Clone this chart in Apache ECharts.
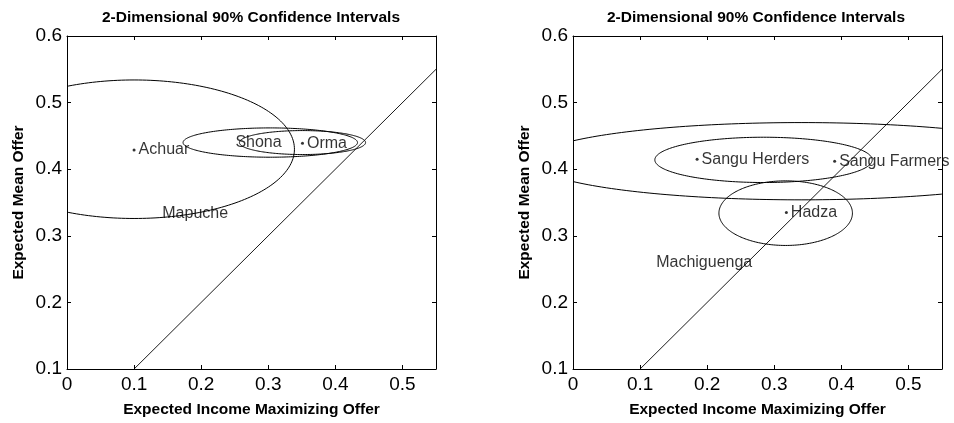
<!DOCTYPE html>
<html><head><meta charset="utf-8">
<script src="https://cdn.jsdelivr.net/npm/echarts@6/dist/echarts.min.js"></script>
<style>html,body{margin:0;padding:0;background:#fff}#c{width:954px;height:423px}</style>
</head><body><div id="c"></div>
<script>
// ---------- shared text / axes ----------
const titleText = '2-Dimensional 90% Confidence Intervals';
const xName = 'Expected Income Maximizing Offer';
const yName = 'Expected Mean Offer';
const xMin = 0, xMax = 0.55, xStep = 0.1;
const yMin = 0.1, yMax = 0.6, yStep = 0.1;
const diagonalX = [0.1, 0.55];
const diagonalY = [0.1, 0.55];

// ---------- left panel ----------
const leftEllipseNames = ['Achuar', 'Shona', 'Orma'];
const leftEllipseCx = [0.100, 0.303, 0.351];
const leftEllipseCy = [0.430, 0.440, 0.440];
const leftEllipseRx = [0.239, 0.130, 0.094];
const leftEllipseRy = [0.104, 0.022, 0.018];
const leftPointNames = ['Achuar', 'Orma'];
const leftPointX = [0.100, 0.351];
const leftPointY = [0.429, 0.439];
const leftLabelNames = ['Shona', 'Mapuche'];
const leftLabelX = [0.251, 0.142];
const leftLabelY = [0.440, 0.333];

// ---------- right panel ----------
const rightEllipseNames = ['Sangu Herders', 'Sangu Farmers', 'Hadza'];
const rightEllipseCx = [0.284, 0.340, 0.317];
const rightEllipseCy = [0.414, 0.412, 0.334];
const rightEllipseRx = [0.162, 0.400, 0.0995];
const rightEllipseRy = [0.034, 0.058, 0.0485];
const rightPointNames = ['Sangu Herders', 'Sangu Farmers', 'Hadza'];
const rightPointX = [0.185, 0.390, 0.318];
const rightPointY = [0.415, 0.412, 0.335];
const rightLabelNames = ['Machiguenga'];
const rightLabelX = [0.124];
const rightLabelY = [0.260];

const FONT = "'Liberation Sans', Arial, Helvetica, sans-serif";

function fmt(v) {
  if (Math.abs(v * 10 - Math.round(v * 10)) > 1e-6) return '';
  if (Math.abs(v) < 1e-9) return '0';
  return (Math.round(v * 10) / 10).toFixed(1);
}

function xAxis(gi, pos, main) {
  return {
    type: 'value', gridIndex: gi, position: pos, min: xMin, max: xMax, interval: xStep,
    axisLine: { show: true, onZero: false, lineStyle: { color: '#000', width: 1 } },
    axisTick: { show: true, inside: true, length: 4, lineStyle: { color: '#000', width: 1 } },
    axisLabel: { show: main, formatter: fmt, color: '#000', fontSize: 19, fontFamily: FONT, margin: 6 },
    splitLine: { show: false },
    name: main ? xName : '', nameLocation: 'middle', nameGap: 33,
    nameTextStyle: { color: '#000', fontSize: 15.5, fontWeight: 'bold', fontFamily: FONT }
  };
}
function yAxis(gi, pos, main) {
  return {
    type: 'value', gridIndex: gi, position: pos, min: yMin, max: yMax, interval: yStep,
    axisLine: { show: true, onZero: false, lineStyle: { color: '#000', width: 1 } },
    axisTick: { show: true, inside: true, length: 4, lineStyle: { color: '#000', width: 1 } },
    axisLabel: { show: main, formatter: fmt, color: '#000', fontSize: 19, fontFamily: FONT, margin: 5 },
    splitLine: { show: false },
    name: main ? yName : '', nameLocation: 'middle', nameGap: 40,
    nameTextStyle: { color: '#000', fontSize: 15.5, fontWeight: 'bold', fontFamily: FONT }
  };
}

function renderEllipse(params, api) {
  const cx = api.value(0), cy = api.value(1), rx = api.value(2), ry = api.value(3);
  const pts = [];
  const N = 240;
  for (let i = 0; i <= N; i++) {
    const t = i / N * 2 * Math.PI;
    pts.push(api.coord([cx + rx * Math.cos(t), cy + ry * Math.sin(t)]));
  }
  const cs = params.coordSys;
  return {
    type: 'group',
    clipPath: { type: 'rect', shape: { x: cs.x, y: cs.y, width: cs.width, height: cs.height } },
    children: [{
      type: 'polyline', shape: { points: pts },
      style: { stroke: '#000', fill: null, lineWidth: 1 }, silent: true
    }]
  };
}

function ellipseSeries(idx, names, cx, cy, rx, ry) {
  return {
    type: 'custom', xAxisIndex: idx * 2, yAxisIndex: idx * 2, clip: true,
    renderItem: renderEllipse, silent: true, animation: false,
    encode: { x: 0, y: 1 },
    data: names.map((n, i) => ({ name: n, value: [cx[i], cy[i], rx[i], ry[i]] }))
  };
}
function diagSeries(idx) {
  return {
    type: 'line', xAxisIndex: idx * 2, yAxisIndex: idx * 2, symbol: 'none', silent: true,
    lineStyle: { color: '#000', width: 0.9 }, animation: false,
    data: diagonalX.map((x, i) => [x, diagonalY[i]])
  };
}
function pointSeries(idx, names, xs, ys) {
  return {
    type: 'scatter', xAxisIndex: idx * 2, yAxisIndex: idx * 2, symbolSize: 3, silent: true,
    itemStyle: { color: '#000' }, animation: false,
    label: { show: true, position: 'right', distance: 3, formatter: '{b}', color: '#000', fontSize: 16, fontFamily: FONT },
    data: names.map((n, i) => ({ name: n, value: [xs[i], ys[i]] }))
  };
}
function labelSeries(idx, names, xs, ys) {
  return {
    type: 'scatter', xAxisIndex: idx * 2, yAxisIndex: idx * 2, symbolSize: 0, silent: true,
    itemStyle: { color: 'rgba(0,0,0,0)' }, animation: false,
    label: { show: true, position: 'right', distance: 0, formatter: '{b}', color: '#000', fontSize: 16, fontFamily: FONT },
    data: names.map((n, i) => ({ name: n, value: [xs[i], ys[i]] }))
  };
}

const chart = echarts.init(document.getElementById('c'), null, { renderer: 'canvas' });
chart.setOption({
  animation: false,
  backgroundColor: '#fff',
  title: [
    { text: titleText, left: 251, top: 10, textAlign: 'center', padding: 0,
      textStyle: { color: '#000', fontSize: 15.5, fontWeight: 'bold', fontFamily: FONT } },
    { text: titleText, left: 756, top: 10, textAlign: 'center', padding: 0,
      textStyle: { color: '#000', fontSize: 15.5, fontWeight: 'bold', fontFamily: FONT } }
  ],
  grid: [
    { left: 67, top: 36, width: 369, height: 335, containLabel: false },
    { left: 573, top: 36, width: 369, height: 335, containLabel: false }
  ],
  xAxis: [xAxis(0, 'bottom', true), xAxis(0, 'top', false), xAxis(1, 'bottom', true), xAxis(1, 'top', false)],
  yAxis: [yAxis(0, 'left', true), yAxis(0, 'right', false), yAxis(1, 'left', true), yAxis(1, 'right', false)],
  series: [
    diagSeries(0),
    ellipseSeries(0, leftEllipseNames, leftEllipseCx, leftEllipseCy, leftEllipseRx, leftEllipseRy),
    pointSeries(0, leftPointNames, leftPointX, leftPointY),
    labelSeries(0, leftLabelNames, leftLabelX, leftLabelY),
    diagSeries(1),
    ellipseSeries(1, rightEllipseNames, rightEllipseCx, rightEllipseCy, rightEllipseRx, rightEllipseRy),
    pointSeries(1, rightPointNames, rightPointX, rightPointY),
    labelSeries(1, rightLabelNames, rightLabelX, rightLabelY)
  ]
});
</script></body></html>
